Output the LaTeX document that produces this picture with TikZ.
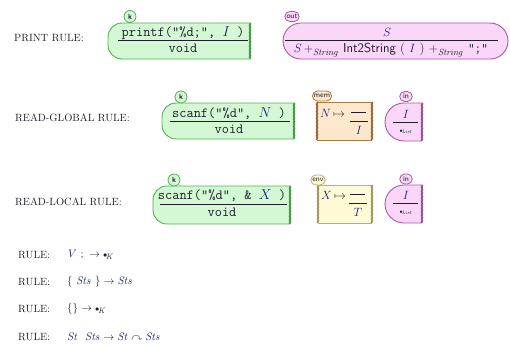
\documentclass[tikz,border=0pt]{standalone}
\usepackage{amssymb}
\usetikzlibrary{decorations.pathmorphing,shapes.misc}

\definecolor{ink}{RGB}{30,30,45}
\definecolor{varink}{RGB}{25,35,110}
\definecolor{kfillc}{RGB}{212,248,212}
\definecolor{klinec}{RGB}{85,175,85}
\definecolor{kedgec}{RGB}{45,145,45}
\definecolor{pfillc}{RGB}{250,214,248}
\definecolor{plinec}{RGB}{170,90,165}
\definecolor{pedgec}{RGB}{135,70,130}
\definecolor{mfillc}{RGB}{253,232,206}
\definecolor{mlinec}{RGB}{175,120,60}
\definecolor{medgec}{RGB}{140,90,40}
\definecolor{efillc}{RGB}{255,250,214}
\definecolor{elinec}{RGB}{185,175,115}
\definecolor{eedgec}{RGB}{150,140,80}

\newcommand{\kv}[1]{\textcolor{varink}{$#1$}}
\newcommand{\kdot}[1]{{\scriptstyle\bullet}_{\!\mathit{#1}}}

\begin{document}
\begin{tikzpicture}[x=1pt,y=-1pt,
  lbl/.style={anchor=west, inner sep=0pt, text=ink, font=\fontsize{10.5}{10.5}\selectfont},
  rulemath/.style={anchor=west, inner sep=0pt, text=ink, font=\fontsize{11}{11}\selectfont},
  ktext/.style={inner sep=0pt, text=ink, font=\fontsize{14}{14}\selectfont\ttfamily},
  mtext/.style={inner sep=0pt, text=ink, font=\fontsize{13}{13}\selectfont},
  bar/.style={draw=ink, line width=1pt},
  thinbar/.style={draw=ink, line width=0.6pt},
  kbody/.style={fill=kfillc, draw=klinec, line width=0.9pt},
  pbody/.style={fill=pfillc, draw=plinec, line width=0.9pt},
  mbody/.style={fill=mfillc},
  ebody/.style={fill=efillc},
  torn/.style={decorate, decoration={zigzag, segment length=1.4pt, amplitude=0.6pt}, line width=0.8pt},
  bubble/.style={rounded rectangle, inner xsep=1.2pt, inner ysep=0pt, minimum height=10pt,
                 line width=0.8pt, text=ink, font=\sffamily\fontsize{7.5}{7.5}\selectfont},
  kbubble/.style={circle, inner sep=0pt, minimum size=12pt, line width=0.8pt,
                  fill=kfillc, draw=klinec, text=ink, font=\sffamily\bfseries\fontsize{7.5}{7.5}\selectfont}
]
\useasboundingbox (0,0) rectangle (510,345);

% ---------- print rule ----------
\node[lbl] (lprint) at (14,38) {PRINT RULE:};

\begin{scope}
  \clip (100,0) rectangle (250,80);
  \draw[kbody, rounded corners=14pt] (108,23) rectangle (290,59);
\end{scope}
\draw[torn, draw=kedgec] (250,23) -- (250,59);
\node[kbubble] (k1) at (130,16.5) {k};
\node[ktext] (k1top) at (183,33) {printf("\%d;", \kv{I} )};
\coordinate (k1l) at (118,41);
\coordinate (k1r) at (248,41);
\draw[bar] (k1l) -- (k1r);
\node[ktext] (k1bot) at (183,48) {void};

\draw[pbody, rounded corners=18pt] (283,23) rectangle (508,59);
\node[bubble, fill=pfillc, draw=plinec] (out) at (292,16.5) {out};
\node[mtext] (outtop) at (387,32) {\kv{S}};
\coordinate (outl) at (285,41);
\coordinate (outr) at (498,41);
\draw[bar] (outl) -- (outr);
\node[mtext] (outbot) at (391,50)
  {\kv{S}\,${}+_{\mathit{String}}$\ {\sffamily Int2String}\ ( \kv{I} )\ ${}+_{\mathit{String}}$\ \texttt{";"}};

% ---------- read-global rule ----------
\node[lbl] (lglobal) at (15,118) {READ-GLOBAL RULE:};

\begin{scope}
  \clip (150,80) rectangle (294,160);
  \draw[kbody, rounded corners=14pt] (162,103) rectangle (330,139);
\end{scope}
\draw[torn, draw=kedgec] (294,103) -- (294,139);
\node[kbubble] (k2) at (181,97) {k};
\node[ktext] (k2top) at (229,114) {scanf("\%d", \kv{N} )};
\coordinate (k2l) at (170,121);
\coordinate (k2r) at (290,121);
\draw[bar] (k2l) -- (k2r);
\node[ktext] (k2bot) at (229,129) {void};

\fill[mbody] (317,102) rectangle (372,140);
\draw[draw=mlinec, line width=0.9pt] (317,102) -- (372,102) (317,140) -- (372,140);
\draw[torn, draw=medgec] (317,102) -- (317,140);
\draw[torn, draw=medgec] (372,102) -- (372,140);
\node[bubble, fill=mfillc, draw=mlinec] (mem) at (322,96) {mem};
\node[mtext, anchor=west] (memkey) at (320,113) {\kv{N}\,$\mapsto$};
\coordinate (mdl) at (351,112.5);
\coordinate (mdr) at (366,112.5);
\draw[thinbar] (mdl) -- (mdr);
\coordinate (mbl) at (350,121);
\coordinate (mbr) at (368,121);
\draw[bar] (mbl) -- (mbr);
\node[mtext] (memval) at (359,130) {\kv{I}};

\begin{scope}
  \clip (370,80) rectangle (422,160);
  \draw[pbody, rounded corners=19pt] (385,103) rectangle (460,141);
\end{scope}
\draw[torn, draw=pedgec] (422,103) -- (422,141);
\node[bubble, fill=pfillc, draw=plinec, minimum width=15pt] (in1) at (406,96.5) {in};
\node[mtext] (in1top) at (406,114) {\kv{I}};
\coordinate (i1l) at (393,122);
\coordinate (i1r) at (418,122);
\draw[bar] (i1l) -- (i1r);
\node[inner sep=0pt, text=ink, font=\fontsize{7}{7}\selectfont] (in1bot) at (406,132) {$\kdot{List}$};

% ---------- read-local rule ----------
\node[lbl] (llocal) at (15,202) {READ-LOCAL RULE:};

\begin{scope}
  \clip (140,165) rectangle (290,245);
  \draw[kbody, rounded corners=14pt] (153,186) rectangle (330,224);
\end{scope}
\draw[torn, draw=kedgec] (290,186) -- (290,224);
\node[kbubble] (k3) at (174,180) {k};
\node[ktext] (k3top) at (222,196) {scanf("\%d", \& \kv{X} )};
\coordinate (k3l) at (160,204);
\coordinate (k3r) at (287,204);
\draw[bar] (k3l) -- (k3r);
\node[ktext] (k3bot) at (222,212) {void};

\fill[ebody] (318,185) rectangle (372,223);
\draw[draw=elinec, line width=0.9pt] (318,185) -- (372,185) (318,223) -- (372,223);
\draw[torn, draw=eedgec] (318,185) -- (318,223);
\draw[torn, draw=eedgec] (372,185) -- (372,223);
\node[bubble, fill=efillc, draw=elinec] (env) at (318,180) {env};
\node[mtext, anchor=west] (envkey) at (321,195) {\kv{X}\,$\mapsto$};
\coordinate (edl) at (350,194.5);
\coordinate (edr) at (365,194.5);
\draw[thinbar] (edl) -- (edr);
\coordinate (ebl) at (349,203);
\coordinate (ebr) at (367,203);
\draw[bar] (ebl) -- (ebr);
\node[mtext] (envval) at (358,212) {\kv{T}};

\begin{scope}
  \clip (370,165) rectangle (422,245);
  \draw[pbody, rounded corners=19pt] (385,185) rectangle (460,223);
\end{scope}
\draw[torn, draw=pedgec] (422,185) -- (422,223);
\node[bubble, fill=pfillc, draw=plinec, minimum width=15pt] (in2) at (406,179) {in};
\node[mtext] (in2top) at (406,195) {\kv{I}};
\coordinate (i2l) at (393,203);
\coordinate (i2r) at (418,203);
\draw[bar] (i2l) -- (i2r);
\node[inner sep=0pt, text=ink, font=\fontsize{7}{7}\selectfont] (in2bot) at (406,213) {$\kdot{List}$};

% ---------- plain rules ----------
\node[lbl] (r1) at (18,255) {RULE:};
\node[rulemath] (r1m) at (68,255) {$\textcolor{varink}{V}\ ;\ \rightarrow \kdot{K}$};
\node[lbl] (r2) at (18,282) {RULE:};
\node[rulemath] (r2m) at (67,282) {$\{\ \textcolor{varink}{\mathit{Sts}}\ \}\rightarrow \textcolor{varink}{\mathit{Sts}}$};
\node[lbl] (r3) at (18,309) {RULE:};
\node[rulemath] (r3m) at (67,309) {$\{\}\rightarrow \kdot{K}$};
\node[lbl] (r4) at (18,337) {RULE:};
\node[rulemath] (r4m) at (67,337) {$\textcolor{varink}{\mathit{St}}\ \ \textcolor{varink}{\mathit{Sts}}\rightarrow \textcolor{varink}{\mathit{St}}\curvearrowright\textcolor{varink}{\mathit{Sts}}$};
\end{tikzpicture}
\end{document}
